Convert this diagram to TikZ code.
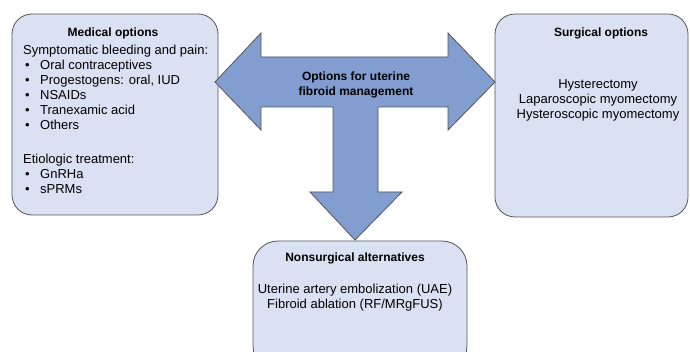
\documentclass[tikz,border=0pt]{standalone}
\usepackage{fontspec}
\setmainfont{Liberation Sans}
\usetikzlibrary{calc}
\definecolor{boxblue}{RGB}{218,225,242}
\definecolor{arrowblue}{RGB}{130,158,208}
\definecolor{edgegray}{RGB}{85,85,85}
\newcommand{\bul}{\hspace*{2pt}\makebox[15pt][l]{\textbullet}}

\begin{document}
\begin{tikzpicture}[x=1pt, y=-1pt,
  box/.style={draw=edgegray, fill=boxblue, line width=.8pt, rounded corners=20pt},
  boxtitle/.style={font=\fontsize{12}{15}\selectfont\bfseries, inner sep=0},
  boxtext/.style={font=\fontsize{13}{15}\selectfont, inner sep=0}]
\useasboundingbox (0,0) rectangle (690,352);
\clip (0,0) rectangle (690,352);
\fill[white] (0,0) rectangle (690,352);
\node[box, minimum width=206pt, minimum height=201pt] (medical) at (115,114.5) {};
\node[box, minimum width=193pt, minimum height=203pt] (surgical) at (591.5,115.5) {};
\node[box, minimum width=214pt, minimum height=130pt, rounded corners=25pt] (nonsurg) at (360,306) {};
\draw[edgegray, fill=arrowblue, line width=.8pt, line join=miter]
  (215,82) -- (261,33) -- (261,57) -- (448,57) -- (448,33) -- (495,82)
  -- (448,130) -- (448,107) -- (378,107) -- (378,192) -- (402,192)
  -- (355,240) -- (310,192) -- (333,192) -- (333,107) -- (261,107)
  -- (261,130) -- cycle;
\node[boxtitle, align=center] (options) at (356,85) {Options for uterine\\fibroid management};
\node[boxtitle] (medtitle) at (113,33) {Medical options};
\node[boxtext, align=left, anchor=north west] (medlist) at (23,45)
  {Symptomatic bleeding and pain:\\
   \bul Oral contraceptives\\
   \bul Progestogens: oral, IUD\\
   \bul NSAIDs\\
   \bul Tranexamic acid\\
   \bul Others\\[19pt]
   Etiologic treatment:\\
   \bul GnRHa\\
   \bul sPRMs};
\node[boxtitle] (surgtitle) at (601,33) {Surgical options};
\node[boxtext, align=center] (surglist) at (598,100)
  {Hysterectomy\\Laparoscopic myomectomy\\Hysteroscopic myomectomy};
\node[boxtitle] (nonsurgtitle) at (355,258) {Nonsurgical alternatives};
\node[boxtext, align=center] (nonsurglist) at (355,298)
  {Uterine artery embolization (UAE)\\Fibroid ablation (RF/MRgFUS)};
\end{tikzpicture}
\end{document}
